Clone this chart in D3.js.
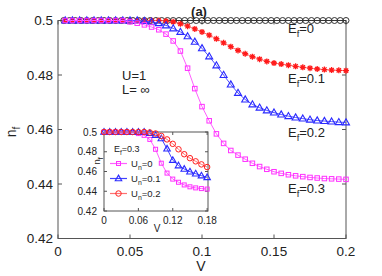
<!DOCTYPE html>
<html>
<head>
<meta charset="utf-8">
<script src="https://cdn.jsdelivr.net/npm/d3@7"></script>
<style>
  body { margin: 0; background: #fff; }
  svg { font-family: "Liberation Sans", Arial, sans-serif; }
</style>
</head>
<body>
<svg id="chart" width="382" height="276"></svg>
<script>
// main panel: V grid (step 0.005) for the three varying curves
const vMain = [0.005,0.01,0.015,0.02,0.025,0.03,0.035,0.04,0.045,0.05,
  0.055,0.06,0.065,0.07,0.075,0.08,0.085,0.09,0.095,0.1,
  0.105,0.11,0.115,0.12,0.125,0.13,0.135,0.14,0.145,0.15,
  0.155,0.16,0.165,0.17,0.175,0.18,0.185,0.19,0.195,0.2];
// Ef=0 curve has a finer grid (step 0.004)
const vBlack = [0.004,0.008,0.012,0.016,0.02,0.024,0.028,0.032,0.036,0.04,
  0.044,0.048,0.052,0.056,0.06,0.064,0.068,0.072,0.076,0.08,
  0.084,0.088,0.092,0.096,0.1,0.104,0.108,0.112,0.116,0.12,
  0.124,0.128,0.132,0.136,0.14,0.144,0.148,0.152,0.156,0.16,
  0.164,0.168,0.172,0.176,0.18,0.184,0.188,0.192,0.196,0.2];
const nEf0 = [0.5,0.5,0.5,0.5,0.5,0.5,0.5,0.5,0.5,0.5,
  0.5,0.5,0.5,0.5,0.5,0.5,0.5,0.5,0.5,0.5,
  0.5,0.5,0.5,0.5,0.5,0.5,0.5,0.5,0.5,0.5,
  0.5,0.5,0.5,0.5,0.5,0.5,0.5,0.5,0.5,0.5,
  0.5,0.5,0.5,0.5,0.5,0.5,0.5,0.5,0.5,0.5];
const nEf01 = [0.5,0.5,0.5,0.5,0.5,0.5,0.5,0.5,0.5,0.5,0.5,0.5,0.5,0.5,
  0.4998,0.4995,0.4988,0.4979,0.4969,0.4958,0.4946,0.4933,0.4918,0.4904,
  0.4890,0.4878,0.4867,0.4858,0.4850,0.4844,0.4840,0.4836,0.4832,0.4828,
  0.4825,0.4822,0.4820,0.4818,0.4817,0.4816];
const nEf02 = [0.5,0.5,0.5,0.5,0.5,0.5,0.5,0.5,0.5,0.5,0.5,
  0.4998,0.4995,0.4990,0.4982,0.4971,0.4958,0.4942,0.4922,0.4898,
  0.4868,0.4835,0.4800,0.4765,0.4734,0.4710,0.4692,0.4680,0.4670,0.4662,
  0.4655,0.4649,0.4644,0.4640,0.4636,0.4633,0.4631,0.4629,0.4627,0.4626];
const nEf03 = [0.5,0.5,0.5,0.5,0.5,0.5,0.5,0.5,0.5,
  0.4995,0.4990,0.4984,0.4976,0.4966,0.4950,0.4925,0.4888,0.4825,0.4750,
  0.4684,0.4632,0.4584,0.4549,0.4523,0.4506,0.4491,0.4476,0.4464,0.4454,
  0.4445,0.4439,0.4434,0.4430,0.4427,0.4424,0.4422,0.4420,0.4419,0.4418,0.4417];

// inset: Ef=0.3, several Un
const vInset = [0,0.01,0.02,0.03,0.04,0.05,0.06,0.07,0.08,0.09,
  0.1,0.11,0.12,0.13,0.14,0.15,0.16,0.17,0.18];
const nUn0 = [0.5,0.5,0.5,0.5,0.5,0.4995,0.4984,0.4966,0.4925,0.4825,
  0.4684,0.4584,0.4523,0.4491,0.4464,0.4445,0.4434,0.4427,0.4422];
const nUn01 = [0.5,0.5,0.5,0.5,0.5,0.5,0.5,0.5,0.4988,0.4968,
  0.4935,0.4830,0.4715,0.4660,0.4625,0.4598,0.4578,0.4558,0.4541];
const nUn02 = [0.5,0.5,0.5,0.5,0.5,0.5,0.5,0.5,0.4995,0.4985,
  0.4960,0.4925,0.4880,0.4825,0.4775,0.4735,0.4703,0.4672,0.4645];

const xTicks = [0, 0.05, 0.1, 0.15, 0.2];
const yTicks = [0.42, 0.44, 0.46, 0.48, 0.5];
const xTicksIn = [0, 0.06, 0.12, 0.18];
const yTicksIn = [0.42, 0.44, 0.46, 0.48, 0.5];
const curveLabels = ["0", "0.1", "0.2", "0.3"];
const legendLabels = ["0", "0.1", "0.2"];

const svg = d3.select('#chart');
const axisCol = '#555';
const textCol = '#222';

const x = d3.scaleLinear().domain([0, 0.2]).range([58, 346]);
const y = d3.scaleLinear().domain([0.42, 0.5]).range([238.5, 20.5]);

// marker drawing
function marker(g, type, color, size) {
  if (type === 'circle') {
    g.append('circle').attr('r', size / 2).attr('fill', 'none')
      .attr('stroke', color).attr('stroke-width', 1);
  } else if (type === 'square') {
    g.append('rect').attr('x', -size / 2).attr('y', -size / 2)
      .attr('width', size).attr('height', size).attr('fill', 'none')
      .attr('stroke', color).attr('stroke-width', 1);
  } else if (type === 'triangle') {
    const h = size * 0.87;
    g.append('path').attr('d', `M0,${-h * 0.6}L${size / 2},${h * 0.4}L${-size / 2},${h * 0.4}Z`)
      .attr('fill', 'none').attr('stroke', color).attr('stroke-width', 1.1);
  } else if (type === 'star') {
    const s = size / 2, d = s * 0.72;
    g.append('path').attr('d', `M${-s},0H${s}M0,${-s}V${s}M${-d},${-d}L${d},${d}M${-d},${d}L${d},${-d}`)
      .attr('stroke', color).attr('stroke-width', 1.3);
  }
}

function drawSeries(parent, xs, ys, xsc, ysc, color, lineColor, type, size) {
  const pts = xs.map((v, i) => [v, ys[i]]);
  parent.append('path')
    .attr('d', d3.line().x(d => xsc(d[0])).y(d => ysc(d[1]))(pts))
    .attr('fill', 'none').attr('stroke', lineColor).attr('stroke-width', 1);
  parent.selectAll(null).data(pts).enter().append('g')
    .attr('transform', d => `translate(${xsc(d[0])},${ysc(d[1])})`)
    .each(function () { marker(d3.select(this), type, color, size); });
}

// frame with inward mirrored ticks
function frame(xsc, ysc, xt, yt, fmtX, fmtY, fs, tl, lblOffX, lblOffY) {
  const [x0, x1] = xsc.range(), [y0, y1] = ysc.range();
  const g = svg.append('g');
  g.append('rect').attr('x', x0).attr('y', y1).attr('width', x1 - x0).attr('height', y0 - y1)
    .attr('fill', '#fff').attr('stroke', axisCol).attr('stroke-width', 1);
  xt.forEach(t => {
    g.append('line').attr('x1', xsc(t)).attr('x2', xsc(t)).attr('y1', y0).attr('y2', y0 - tl).attr('stroke', axisCol);
    g.append('line').attr('x1', xsc(t)).attr('x2', xsc(t)).attr('y1', y1).attr('y2', y1 + tl).attr('stroke', axisCol);
    g.append('text').attr('x', xsc(t)).attr('y', y0 + lblOffY).attr('text-anchor', 'middle')
      .attr('font-size', fs).attr('fill', textCol).text(fmtX(t));
  });
  yt.forEach(t => {
    g.append('line').attr('x1', x0).attr('x2', x0 + tl).attr('y1', ysc(t)).attr('y2', ysc(t)).attr('stroke', axisCol);
    g.append('line').attr('x1', x1).attr('x2', x1 - tl).attr('y1', ysc(t)).attr('y2', ysc(t)).attr('stroke', axisCol);
    g.append('text').attr('x', x0 - lblOffX).attr('y', ysc(t)).attr('dy', '0.36em').attr('text-anchor', 'end')
      .attr('font-size', fs).attr('fill', textCol).text(fmtY(t));
  });
  return g;
}

const fmt = d => d === 0 ? '0' : String(d);

frame(x, y, xTicks, yTicks, fmt, fmt, 13.5, 4, 5, 17);

const main = svg.append('g');
drawSeries(main, vBlack, nEf0, x, y, '#333', '#333', 'circle', 6);
drawSeries(main, vMain, nEf01, x, y, '#ff1a1a', '#ff7070', 'star', 6);
drawSeries(main, vMain, nEf02, x, y, '#2a2aff', '#5050ff', 'triangle', 7);
drawSeries(main, vMain, nEf03, x, y, '#ff30ff', '#ff60ff', 'square', 4.5);

// subscript label helper
function subText(parent, px, py, base, sub, rest, fs, anchor) {
  const t = parent.append('text').attr('x', px).attr('y', py).attr('font-size', fs)
    .attr('fill', textCol).attr('text-anchor', anchor || 'start');
  t.append('tspan').text(base);
  t.append('tspan').attr('dy', fs * 0.3).attr('font-size', fs * 0.72).text(sub);
  t.append('tspan').attr('dy', -fs * 0.3).text(rest);
  return t;
}

const labelY = [33, 83, 137, 193];
curveLabels.forEach((c, i) => subText(svg, 288, labelY[i], 'E', 'f', '=' + c, 13));

svg.append('text').attr('x', 122).attr('y', 80).attr('font-size', 13).attr('fill', textCol).text('U=1');
svg.append('text').attr('x', 122).attr('y', 94).attr('font-size', 13).attr('fill', textCol).text('L= ∞');

svg.append('text').attr('x', 199).attr('y', 16).attr('text-anchor', 'middle')
  .attr('font-size', 13).attr('font-weight', 'bold').attr('fill', textCol).text('(a)');

svg.append('text').attr('x', 201).attr('y', 271).attr('text-anchor', 'middle')
  .attr('font-size', 14).attr('fill', textCol).text('V');
subText(svg, 0, 0, 'n', 'f', '', 14, 'middle')
  .attr('transform', 'translate(16,132) rotate(-90)');

// inset
const ix = d3.scaleLinear().domain([0, 0.1815]).range([104, 208]);
const iy = d3.scaleLinear().domain([0.42, 0.5]).range([211, 132]);
frame(ix, iy, xTicksIn, yTicksIn, fmt, fmt, 10, 3, 7, 12.5);

const inset = svg.append('g');
drawSeries(inset, vInset, nUn0, ix, iy, '#ff30ff', '#ff60ff', 'square', 4);
drawSeries(inset, vInset, nUn01, ix, iy, '#2a2aff', '#4040ff', 'triangle', 6.5);
drawSeries(inset, vInset, nUn02, ix, iy, '#ff2020', '#ff7070', 'circle', 5.5);

subText(svg, 114, 152, 'E', 'f', '=0.3', 9);
const legCols = [['#ff30ff', '#ff60ff', 'square', 4], ['#2a2aff', '#4040ff', 'triangle', 6.5], ['#ff2020', '#ff7070', 'circle', 5.5]];
const legY = [163.5, 178.5, 193.5];
legendLabels.forEach((l, i) => {
  const [c, lc, type, sz] = legCols[i];
  svg.append('line').attr('x1', 110).attr('x2', 127).attr('y1', legY[i]).attr('y2', legY[i])
    .attr('stroke', lc).attr('stroke-width', 1.2);
  marker(svg.append('g').attr('transform', `translate(118.5,${legY[i]})`), type, c, sz);
  subText(svg, 131, legY[i] + 3.5, 'U', 'n', '=' + l, 9.5);
});

svg.append('text').attr('x', 157).attr('y', 232).attr('text-anchor', 'middle')
  .attr('font-size', 10).attr('fill', textCol).text('V');
subText(svg, 0, 0, 'n', 'f', '', 9.5, 'middle')
  .attr('transform', 'translate(100,161) rotate(-90)');
</script>
</body>
</html>
